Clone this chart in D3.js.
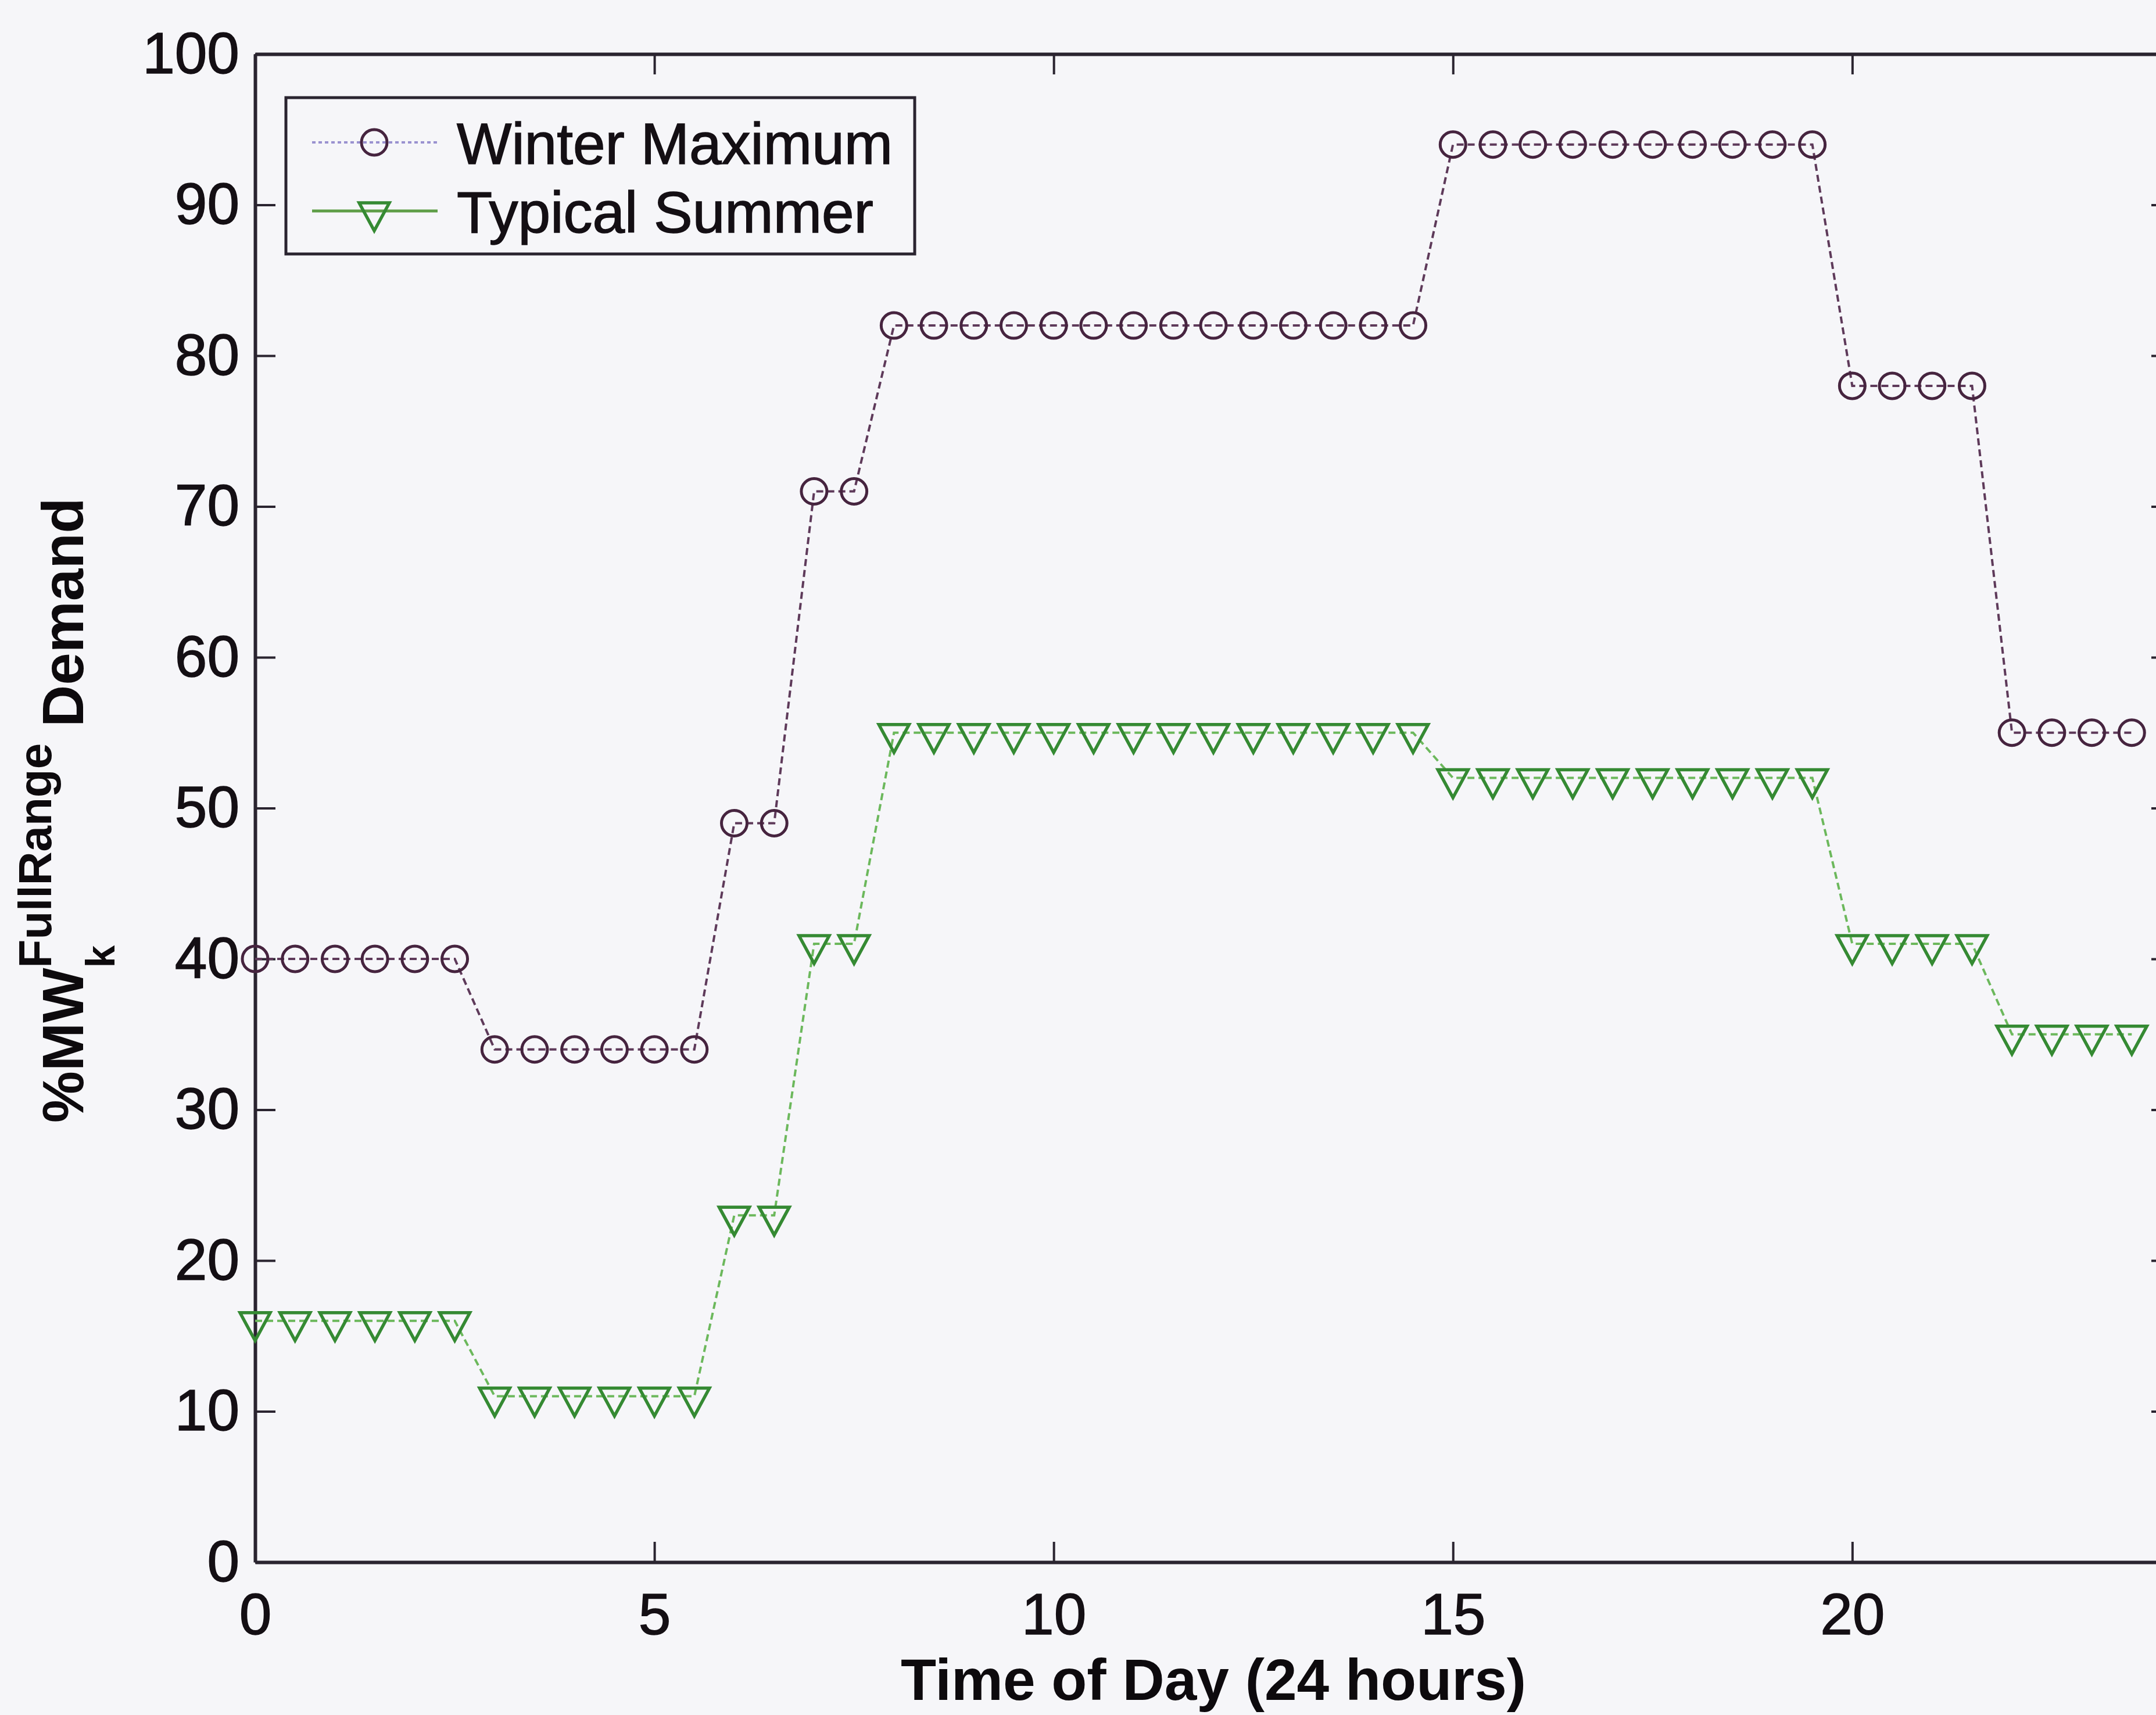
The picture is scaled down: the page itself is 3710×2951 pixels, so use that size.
<!DOCTYPE html>
<html>
<head>
<meta charset="utf-8">
<script src="https://cdn.jsdelivr.net/npm/d3@7"></script>
<style>
    body { margin: 0; background: #f6f6f9; }
    svg { display: block; }
    .tick text { font-family: "Liberation Sans", Arial, sans-serif; font-size: 100px; fill: #140f14; stroke: #140f14; stroke-width: 1.5; }
    .tick line { stroke: #2a2430; stroke-width: 4; }
    .domain { stroke: #2a2430; stroke-width: 6; }
</style>
</head>
<body>
<div id="chart"></div>
<script>
// half-hour steps over the day
const hours = [0, 0.5, 1, 1.5, 2, 2.5, 3, 3.5, 4, 4.5, 5, 5.5, 6, 6.5, 7, 7.5,
    8, 8.5, 9, 9.5, 10, 10.5, 11, 11.5, 12, 12.5, 13, 13.5, 14, 14.5,
    15, 15.5, 16, 16.5, 17, 17.5, 18, 18.5, 19, 19.5,
    20, 20.5, 21, 21.5, 22, 22.5, 23, 23.5];

const winterMax = [40, 40, 40, 40, 40, 40, 34, 34, 34, 34, 34, 34, 49, 49, 71, 71,
    82, 82, 82, 82, 82, 82, 82, 82, 82, 82, 82, 82, 82, 82,
    94, 94, 94, 94, 94, 94, 94, 94, 94, 94,
    78, 78, 78, 78, 55, 55, 55, 55];

const typicalSummer = [16, 16, 16, 16, 16, 16, 11, 11, 11, 11, 11, 11, 23, 23, 41, 41,
    55, 55, 55, 55, 55, 55, 55, 55, 55, 55, 55, 55, 55, 55,
    52, 52, 52, 52, 52, 52, 52, 52, 52, 52,
    41, 41, 41, 41, 35, 35, 35, 35];

const seriesNames = ["Winter Maximum", "Typical Summer"];
const xTicks = [0, 5, 10, 15, 20];
const yTicks = [0, 10, 20, 30, 40, 50, 60, 70, 80, 90, 100];

const width = 3710, height = 2951;
const plot = { left: 439, right: 3737, top: 93, bottom: 2688 };
const font = "'Liberation Sans', Arial, sans-serif";

const winterColor = "#46243f", winterLine = "#5e3a5a";
const summerColor = "#358a33", summerLine = "#6cb85c";

const svg = d3.select("#chart").append("svg")
    .attr("width", width)
    .attr("height", height)
    .style("background", "#f6f6f9");

const x = d3.scaleLinear().domain([0, 24]).range([plot.left, plot.right]);
const y = d3.scaleLinear().domain([0, 100]).range([plot.bottom, plot.top]);

// axes, ticks pointing inward on all four sides
svg.append("g")
    .attr("transform", `translate(0,${plot.bottom})`)
    .call(d3.axisBottom(x).tickValues(xTicks).tickSizeInner(-35).tickSizeOuter(0).tickPadding(53));
svg.append("g")
    .attr("transform", `translate(${plot.left},0)`)
    .call(d3.axisLeft(y).tickValues(yTicks).tickSizeInner(-35).tickSizeOuter(0).tickPadding(27));
svg.append("g")
    .attr("transform", `translate(0,${plot.top})`)
    .call(d3.axisTop(x).tickValues(xTicks).tickSizeInner(-35).tickSizeOuter(0).tickFormat(""));
svg.append("g")
    .attr("transform", `translate(${plot.right},0)`)
    .call(d3.axisRight(y).tickValues(yTicks).tickSizeInner(-35).tickSizeOuter(0).tickFormat(""));

const lineGen = d3.line().x(d => x(d[0])).y(d => y(d[1]));
const winterPts = hours.map((h, i) => [h, winterMax[i]]);
const summerPts = hours.map((h, i) => [h, typicalSummer[i]]);

// triangle pointing down, line passes near its top edge
const triPath = "M-26,-14 L26,-14 L0,34 Z";

svg.append("path").datum(summerPts)
    .attr("d", lineGen)
    .attr("fill", "none")
    .attr("stroke", summerLine)
    .attr("stroke-width", 4)
    .attr("stroke-dasharray", "12,7");

svg.append("path").datum(winterPts)
    .attr("d", lineGen)
    .attr("fill", "none")
    .attr("stroke", winterLine)
    .attr("stroke-width", 4)
    .attr("stroke-dasharray", "12,7");

svg.append("g")
    .selectAll("path")
    .data(summerPts)
    .enter()
    .append("path")
    .attr("d", triPath)
    .attr("transform", d => `translate(${x(d[0])},${y(d[1])})`)
    .attr("fill", "none")
    .attr("stroke", summerColor)
    .attr("stroke-width", 5.5);

svg.append("g")
    .selectAll("circle")
    .data(winterPts)
    .enter()
    .append("circle")
    .attr("cx", d => x(d[0]))
    .attr("cy", d => y(d[1]))
    .attr("r", 22)
    .attr("fill", "none")
    .attr("stroke", winterColor)
    .attr("stroke-width", 5);

// legend
const legend = svg.append("g");
legend.append("rect")
    .attr("x", 492).attr("y", 168)
    .attr("width", 1082).attr("height", 269)
    .attr("fill", "#f6f6f9")
    .attr("stroke", "#2a2430")
    .attr("stroke-width", 5);

const legendRows = [
    { name: seriesNames[0], y: 245, line: "#9a92d0", dash: "6,5", width: 4 },
    { name: seriesNames[1], y: 363, line: "#5f9e48", dash: null, width: 5 }
];
legendRows.forEach((row, i) => {
    legend.append("line")
        .attr("x1", 537).attr("x2", 753)
        .attr("y1", row.y).attr("y2", row.y)
        .attr("stroke", row.line)
        .attr("stroke-width", row.width)
        .attr("stroke-dasharray", row.dash);
    if (i === 0) {
        legend.append("circle")
            .attr("cx", 644).attr("cy", row.y).attr("r", 22)
            .attr("fill", "none").attr("stroke", winterColor).attr("stroke-width", 5);
    } else {
        legend.append("path")
            .attr("d", triPath)
            .attr("transform", `translate(644,${row.y})`)
            .attr("fill", "none").attr("stroke", summerColor).attr("stroke-width", 5.5);
    }
    legend.append("text")
        .attr("x", 786).attr("y", row.y + 37)
        .style("font-family", font)
        .style("font-size", "100px")
        .attr("fill", "#140f14")
        .attr("stroke", "#140f14")
        .attr("stroke-width", 1.5)
        .text(row.name);
});

// axis titles
svg.append("text")
    .attr("x", (plot.left + plot.right) / 2)
    .attr("y", 2925)
    .attr("text-anchor", "middle")
    .style("font-family", font)
    .style("font-size", "100px")
    .style("font-weight", "bold")
    .attr("fill", "#0d0a0d")
    .text("Time of Day (24 hours)");

const yTitle = svg.append("text")
    .attr("transform", "translate(143,1932) rotate(-90)")
    .style("font-family", font)
    .style("font-weight", "bold")
    .attr("fill", "#0d0a0d");
yTitle.append("tspan").style("font-size", "100px").text("%MW");
yTitle.append("tspan").style("font-size", "70px").attr("dy", 54).text("k");
yTitle.append("tspan").style("font-size", "80px").attr("dx", -39).attr("dy", -109).text("FullRange");
yTitle.append("tspan").style("font-size", "100px").attr("dy", 55).text(" Demand");
</script>
</body>
</html>
